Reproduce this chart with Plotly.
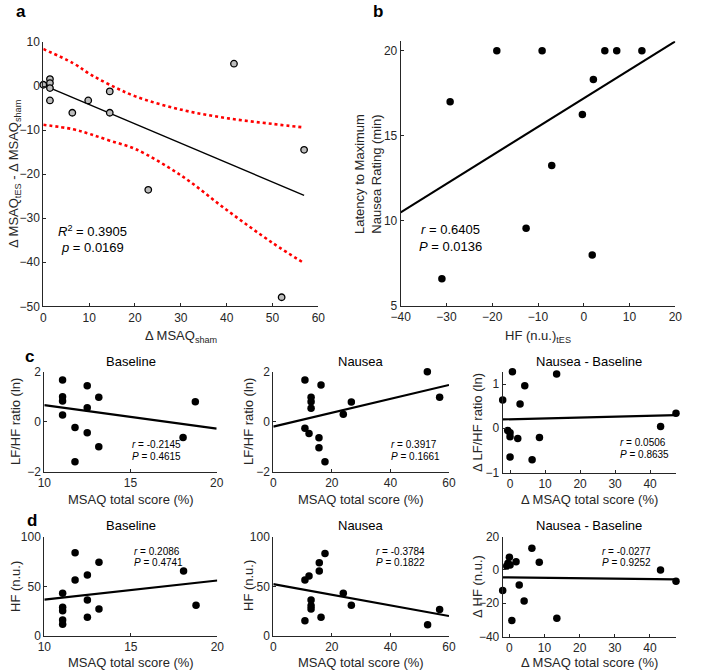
import plotly.graph_objects as go

W, H = 709, 671
FONT = "Liberation Sans, Arial, Helvetica, sans-serif"
AX = "#262626"

# ---------------- data ----------------
# panel a
a_x = [0, 1.45, 1.45, 1.45, 1.45, 6.33, 9.8, 14.5, 14.5, 22.9, 41.6, 56.9, 52.0]
a_y = [0.3, 1.59, 0.68, -0.45, -3.26, -6.06, -3.26, -1.21, -6.06, -23.56, 5.07, -14.47, -47.95]
a_fit_x = [0, 56.9]
a_fit_y = [0.19, -24.8]
a_band_x = [0, 6.5, 10.2, 14.5, 20.1, 30.2, 40.1, 50, 56.9]
a_band_up = [8.4, 5.2, 2.7, 0.3, -2.35, -5.4, -7.3, -8.6, -9.4]
a_band_lo = [-8.8, -9.8, -10.9, -12.4, -14.3, -20.4, -28.2, -35.6, -40.2]

# panel b
b_x = [-19.0, -9.1, 4.6, 7.2, 12.7, -29.2, 2.1, -0.3, -7.0, -12.6, 1.85, -31.0]
b_y = [20, 20, 20, 20, 20, 17.0, 18.3, 16.25, 13.26, 9.57, 8.0, 6.6]
b_fit_x = [-40, 20]
b_fit_y = [10.5, 20.55]

# panel c (LF/HF ratio)
c1_x = [11.06, 11.06, 11.06, 11.06, 11.06, 11.78, 11.78, 12.49, 12.49, 12.49, 13.16, 13.16, 18.05, 18.76]
c1_y = [2.03, 1.67, 1.0, 0.83, 0.27, -0.23, -1.59, 1.44, 0.56, -0.43, 0.98, -0.99, -0.62, 0.8]
c1_fit_x = [10, 20]
c1_fit_y = [0.67, -0.27]

c2_x = [10.8, 12.9, 12.9, 12.9, 16.3, 10.8, 12.2, 15.6, 15.6, 17.65, 23.9, 26.65, 52.6, 56.8]
c2_y = [1.67, 0.98, 0.8, 0.54, 1.47, -0.26, -0.46, -0.63, -1.03, -1.59, 0.30, 0.79, 2.0, 0.98]
c2_fit_x = [0, 60]
c2_fit_y = [-0.19, 1.47]

c3_x = [-2.1, 0.67, 4.2, 2.86, 13.3, -0.67, 0, 0, 2.2, 8.4, 0, 6.3, 43.0, 47.4]
c3_y = [0.64, 1.28, 0.96, 0.55, 1.23, -0.05, -0.1, -0.19, -0.23, -0.21, -0.65, -0.71, 0.04, 0.34]
c3_fit_x = [-2.1, 47.4]
c3_fit_y = [0.2, 0.3]

# panel d (HF)
d1_x = [11.06, 11.06, 11.06, 11.06, 11.06, 11.78, 11.78, 12.49, 12.49, 12.49, 13.16, 13.16, 18.05, 18.77]
d1_y = [43, 28.9, 25.5, 16.1, 11.8, 83.9, 56.4, 61.4, 36.3, 18.8, 74.2, 27.2, 65.4, 30.9]
d1_fit_x = [10, 20]
d1_fit_y = [36.7, 55.9]

d2_x = [17.65, 15.7, 15.7, 10.8, 12.2, 12.9, 12.9, 12.9, 16.3, 10.8, 23.9, 26.65, 52.7, 56.8]
d2_y = [83.2, 73.8, 65.4, 56.4, 60.4, 36.2, 30.5, 27.2, 18.8, 15.4, 43, 30.9, 11.4, 26.8]
d2_fit_x = [0, 60]
d2_fit_y = [52.3, 20.1]

d3_x = [0, -0.75, 0.2, -0.4, 1.9, 6.4, 8.5, -1.9, 2.8, 4.2, 0.7, 13.5, 43.0, 47.4]
d3_y = [7.6, 2.4, 3.0, 4.0, 5.0, 13.0, 4.6, -12.4, -9.0, -18.6, -30.4, -29.0, 0, -6.8]
d3_fit_x = [-1.9, 47.4]
d3_fit_y = [-4.4, -5.6]

# ---------------- layout helpers ----------------
def px(x, y):
    return x / W, 1 - y / H

def dom(x0, x1, y0, y1):
    return [x0 / W, x1 / W], [1 - y1 / H, 1 - y0 / H]

fig = go.Figure()
layout = dict(width=W, height=H, margin=dict(l=0, r=0, t=0, b=0, autoexpand=False),
              paper_bgcolor="white", plot_bgcolor="white", showlegend=False,
              font=dict(family=FONT, color=AX, size=12))

axes = [
    ((43.3, 318.3, 42, 306.3), [0, 60], [-50, 10], list(range(0, 61, 10)), list(range(-50, 11, 10))),
    ((400.7, 675.3, 41.3, 306), [-40, 20], [5, 20.55], list(range(-40, 21, 10)), [5, 10, 15, 20]),
    ((44.3, 216.7, 371.7, 472), [10, 20], [-2, 2], [10, 15, 20], [-2, 0, 2]),
    ((273.3, 449, 371.7, 472), [0, 60], [-2, 2], [0, 20, 40, 60], [-2, 0, 2]),
    ((502.7, 676, 371.7, 472.5), [-2.1, 47.4], [-1, 1.28], [0, 10, 20, 30, 40], [-1, 0, 1]),
    ((44.3, 217.3, 536.7, 636), [10, 20], [0, 100], [10, 15, 20], [0, 50, 100]),
    ((273.3, 449, 536.7, 636), [0, 60], [0, 100], [0, 20, 40, 60], [0, 50, 100]),
    ((502.7, 676, 536.7, 636.5), [-1.9, 47.4], [-40, 20], [0, 10, 20, 30, 40], [-40, -20, 0, 20]),
]

for i, (box, xr, yr, xt, yt) in enumerate(axes, start=1):
    xd, yd = dom(*box)
    sfx = "" if i == 1 else str(i)
    common = dict(showline=True, linecolor=AX, linewidth=1, ticks="inside", ticklen=3,
                  tickcolor=AX, showgrid=False, zeroline=False, mirror=False, automargin=False,
                  tickfont=dict(family=FONT, size=12, color=AX), fixedrange=True)
    layout["xaxis" + sfx] = dict(domain=xd, range=xr, tickvals=xt, anchor="y" + sfx, **common)
    layout["yaxis" + sfx] = dict(domain=yd, range=yr, tickvals=yt, anchor="x" + sfx, **common)

def add_points(i, x, y, size=7.5, color="black", edge=None):
    sfx = "" if i == 1 else str(i)
    mk = dict(size=size, color=color)
    mk["line"] = dict(color=edge, width=1.3) if edge else dict(width=0)
    fig.add_trace(go.Scatter(x=x, y=y, mode="markers", marker=mk, cliponaxis=False,
                             xaxis="x" + sfx, yaxis="y" + sfx, hoverinfo="skip"))

def add_line(i, x, y, width=2, color="black", dash="solid", shape="linear"):
    sfx = "" if i == 1 else str(i)
    fig.add_trace(go.Scatter(x=x, y=y, mode="lines", cliponaxis=False,
                             line=dict(color=color, width=width, dash=dash, shape=shape),
                             xaxis="x" + sfx, yaxis="y" + sfx, hoverinfo="skip"))

# panel a
add_line(1, a_band_x, a_band_up, width=2.6, color="#ff0000", dash="dot", shape="spline")
add_line(1, a_band_x, a_band_lo, width=2.6, color="#ff0000", dash="dot", shape="spline")
add_line(1, a_fit_x, a_fit_y, width=1.4)
add_points(1, a_x, a_y, size=6.5, color="#bdbdbd", edge="black")
# panel b
add_line(2, b_fit_x, b_fit_y, width=2)
add_points(2, b_x, b_y, size=7.5)
# panels c, d
for i, (x, y, fx, fy) in enumerate([
        (c1_x, c1_y, c1_fit_x, c1_fit_y), (c2_x, c2_y, c2_fit_x, c2_fit_y),
        (c3_x, c3_y, c3_fit_x, c3_fit_y), (d1_x, d1_y, d1_fit_x, d1_fit_y),
        (d2_x, d2_y, d2_fit_x, d2_fit_y), (d3_x, d3_y, d3_fit_x, d3_fit_y)], start=3):
    add_line(i, fx, fy, width=2.2)
    add_points(i, x, y, size=7.5)

ann = []

def text(x, y, s, size=12.7, angle=0, color=AX, xanchor="center", yanchor="middle",
         bold=False, xref="paper", yref="paper"):
    if xref == "paper":
        x, y = px(x, y)
    ann.append(dict(x=x, y=y, xref=xref, yref=yref, text=("<b>%s</b>" % s) if bold else s,
                    showarrow=False, textangle=angle, xanchor=xanchor, yanchor=yanchor,
                    font=dict(family=FONT, size=size, color=color)))

# panel letters
text(21, 12, "a", size=17, color="black", bold=True)
text(378, 11, "b", size=17, color="black", bold=True)
text(29, 356, "c", size=17, color="black", bold=True)
text(32, 520, "d", size=17, color="black", bold=True)

# axis titles panel a/b
text(181, 336, "Δ MSAQ<sub>sham</sub>", size=13)
text(14, 174, "Δ MSAQ<sub>tES</sub> - Δ MSAQ<sub>sham</sub>", size=13, angle=-90)
text(538, 336, "HF (n.u.)<sub>tES</sub>", size=13)
text(368, 174, "Latency to Maximum<br>Nausea Rating (min)", size=13, angle=-90)

# row c / d titles & labels
centers = [130.5, 361, 589]
for cx, t in zip(centers, ["Baseline", "Nausea", "Nausea - Baseline"]):
    text(cx, 361.7, t, size=13, color="black")
    text(cx, 525.7, t, size=13, color="black")
for cx, t in zip(centers, ["MSAQ total score (%)", "MSAQ total score (%)", "Δ MSAQ total score (%)"]):
    text(cx, 499, t, size=13)
    text(cx, 662, t, size=13)
for lx, t1, t2 in zip([15, 248, 477],
                      ["LF/HF ratio (ln)", "LF/HF ratio (ln)", "Δ LF/HF ratio (ln)"],
                      ["HF (n.u.)", "HF (n.u.)", "Δ HF (n.u.)"]):
    text(lx, 422, t1, size=13, angle=-90)
    text(lx, 586, t2, size=13, angle=-90)

# stats
def stat(i, x, y, s, size, xanchor="left"):
    sfx = "" if i == 1 else str(i)
    text(x, y, s, size=size, color="black", xanchor=xanchor, xref="x" + sfx, yref="y" + sfx)

stat(1, 10.8, -32.8, "<i>R</i><sup>2</sup> = 0.3905", 13, "center")
stat(1, 10.8, -36.6, "<i>p</i> = 0.0169", 13, "center")
stat(2, -29.1, 9.5, "<i>r</i> = 0.6405", 13, "center")
stat(2, -29.1, 8.52, "<i>P</i> = 0.0136", 13, "center")
stat(3, 14.97, -0.92, "<i>r</i> = -0.2145", 10)
stat(3, 14.97, -1.39, "<i>P</i> = 0.4615", 10)
stat(4, 39.6, -0.92, "<i>r</i> = 0.3917", 10)
stat(4, 39.6, -1.39, "<i>P</i> = 0.1661", 10)
stat(5, 30.8, -0.32, "<i>r</i> = 0.0506", 10)
stat(5, 30.8, -0.60, "<i>P</i> = 0.8635", 10)
stat(6, 15.05, 85.6, "<i>r</i> = 0.2086", 10)
stat(6, 15.05, 73.8, "<i>P</i> = 0.4741", 10)
stat(7, 34.5, 85.6, "<i>r</i> = -0.3784", 10)
stat(7, 34.5, 73.8, "<i>P</i> = 0.1822", 10)
stat(8, 25.8, 11.4, "<i>r</i> = -0.0277", 10)
stat(8, 25.8, 4.4, "<i>P</i> = 0.9252", 10)

layout["annotations"] = ann
fig.update_layout(**layout)
fig.write_html("out.html", config={"displayModeBar": False},
               post_script="document.body.style.margin='0';document.body.style.overflow='hidden';")
